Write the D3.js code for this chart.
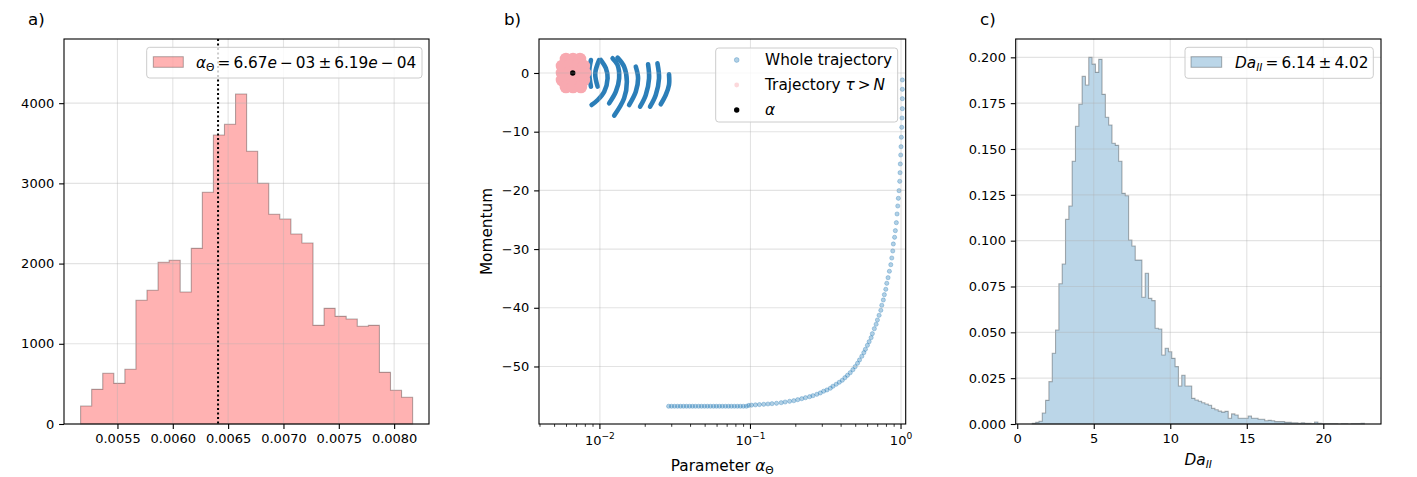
<!DOCTYPE html>
<html><head><meta charset="utf-8">
<script src="https://cdn.jsdelivr.net/npm/d3@7"></script>
<style>
body{margin:0;background:#fff}
svg{display:block}
text{font-family:"DejaVu Sans",sans-serif;fill:#000;white-space:pre}
</style>
</head><body>
<svg id="fig" width="1417" height="477"></svg>
<script>
// ---------------- DATA ----------------
// Panel a: histogram of alpha_Theta (counts), 30 bins
const aBinLo = 0.005167, aBinHi = 0.008167;
const aCounts = [224, 432, 632, 507, 682, 1542, 1667, 2016, 2041, 1646, 2190, 2889, 3603, 3737, 4115,
                 3400, 3001, 2615, 2556, 2369, 2257, 1230, 1442, 1342, 1309, 1218, 1230, 644, 420, 333];
const aMarker = 0.006409;
const aXTicks = [0.0055, 0.0060, 0.0065, 0.0070, 0.0075, 0.0080];
const aYTicks = [0, 1000, 2000, 3000, 4000];

// Panel b: whole trajectory (parameter, momentum)
const trajX = [0.0286,0.0299,0.0313,0.0328,0.0343,0.0359,0.0376,0.0394,0.0412,0.0431,0.0452,0.0473,0.0495,0.0518,
  0.0542,0.0568,0.0594,0.0622,0.0651,0.0682,0.0714,0.0747,0.0782,0.0819,0.0857,0.0897,0.0939,
  0.0974,0.1015,0.1079,0.1147,0.1225,0.1306,0.139,0.149,0.160,0.170,0.182,0.194,0.206,0.219,0.232,0.247,0.260,
  0.276,0.291,0.306,0.322,0.339,0.353,0.371,0.389,0.407,0.424,0.441,0.460,0.479,0.496,0.514,0.530,0.549,0.566,
  0.580,0.598,0.614,0.633,0.645,0.665,0.683,0.697,0.715,0.734,0.745,0.763,0.775,0.792,0.804,0.820,0.837,0.855,
  0.868,0.881,0.889,0.906,0.917,0.931,0.941,0.951,0.960,0.970,0.980,0.985,0.989,0.995,1.000,1.005,1.011,1.015,
  1.020,1.020,1.020,1.020];
const trajM = [-56.78,-56.78,-56.78,-56.78,-56.78,-56.78,-56.78,-56.78,-56.78,-56.78,-56.78,-56.78,-56.78,-56.78,
  -56.78,-56.78,-56.78,-56.78,-56.78,-56.78,-56.78,-56.78,-56.78,-56.78,-56.78,-56.78,-56.78,
  -56.64,-56.59,-56.54,-56.49,-56.44,-56.39,-56.34,-56.27,-56.17,-56.05,-55.93,-55.83,-55.66,-55.49,-55.32,-55.15,-54.98,
  -54.74,-54.51,-54.22,-54.00,-53.71,-53.37,-53.03,-52.69,-52.35,-51.91,-51.50,-51.06,-50.55,-50.03,-49.45,-48.89,-48.26,-47.65,
  -47.07,-46.39,-45.78,-45.09,-44.41,-43.56,-42.81,-42.08,-41.28,-40.43,-39.57,-38.67,-37.77,-36.85,-35.83,-34.87,-33.78,-32.66,
  -31.52,-30.32,-29.13,-27.99,-26.86,-25.50,-24.02,-22.66,-21.35,-20.05,-18.45,-16.99,-15.50,-13.97,-12.56,-10.95,-9.25,-7.67,
  -6.08,-4.38,-2.78,-1.19];
// dense oscillating part of the whole trajectory (parameter, momentum) traced as strokes
const trajLoops = [
  [[0.00872,2.21],[0.00849,0.22],[0.00872,-2.33]],
  [[0.00989,2.21],[0.00931,-0.05],[0.00966,-2.33]],
  [[0.01015,2.21],[0.01096,0.80],[0.01125,-0.90],[0.01068,-3.19],[0.00966,-4.60],[0.00881,-5.45]],
  [[0.01214,2.50],[0.01310,1.36],[0.01342,-0.90],[0.01276,-3.19],[0.01152,-5.16]],
  [[0.01310,2.61],[0.01448,1.07],[0.01510,-1.48],[0.01448,-4.31],[0.01244,-7.27]],
  [[0.01731,1.07],[0.01793,-0.90],[0.01731,-3.19],[0.01563,-5.45]],
  [[0.02089,1.48],[0.02121,-0.90],[0.02017,-3.75],[0.01849,-5.74]],
  [[0.02411,1.65],[0.02470,-0.90],[0.02349,-3.75],[0.02153,-5.74]],
  [[0.02877,-0.22],[0.02877,-2.04],[0.02736,-3.75],[0.02535,-5.33]]
];
// trajectory after tau > N
const tauX = [0.00595,0.00663,0.00737, 0.00560,0.00623,0.00704,0.00783, 0.00560,0.00623,0.00704,0.00796,
              0.00560,0.00623,0.00704,0.00783, 0.00595,0.00663,0.00748];
const tauM = [2.39,2.39,2.39, 1.19,1.19,1.19,1.19, 0,0,0,0, -1.19,-1.19,-1.19,-1.19, -2.39,-2.39,-2.39];
const alphaX = [0.0066], alphaM = [0];
const bXTicks = [0.01, 0.1, 1];
const bXTickExp = ["\u22122", "\u22121", "0"];
const bYTicks = [0, -10, -20, -30, -40, -50];

// Panel c: histogram of Da_II (density), 100 bins
const cBinLo = 0.985, cBinHi = 22.685;
const cDensity = [0.0004,0.0009,0.0015,0.0060,0.0129,0.0231,0.0386,0.0513,0.0765,0.0873,
  0.1116,0.1189,0.1433,0.1624,0.1744,0.1896,0.1849,0.2000,0.1963,0.1918,
  0.1989,0.1798,0.1673,0.1631,0.1531,0.1520,0.1433,0.1258,0.1245,0.1004,
  0.0971,0.0894,0.0894,0.0691,0.0822,0.0685,0.0673,0.0522,0.0518,0.0376,
  0.0413,0.0394,0.0358,0.0313,0.0207,0.0266,0.0207,0.0207,0.0140,0.0131,
  0.0124,0.0116,0.0109,0.0102,0.0085,0.0078,0.0070,0.0065,0.0069,0.0031,
  0.0055,0.0049,0.0031,0.0031,0.0031,0.0044,0.0031,0.0031,0.0026,0.0026,
  0.0018,0.0020,0.0018,0.0013,0.0013,0.0013,0.0009,0.0009,0.0007,0.0007,
  0.0004,0.0007,0.0004,0.0004,0.0002,0.0011,0.0004,0.0002,0.0002,0.0002,
  0.0002,0.0002,0.0000,0.0002,0.0002,0.0000,0.0002,0.0002,0.0002,0.0004];
const cXTicks = [0, 5, 10, 15, 20];
const cYTicks = [0, 0.025, 0.05, 0.075, 0.1, 0.125, 0.15, 0.175, 0.2];

// ---------------- DRAWING ----------------
const svg = d3.select("#fig");
const TICK = 4.9, PAD = 4.9, TFS = 13, LFS = 15.3, GRID = "#b0b0b0";
const TS = "\u2009"; // thin space (math spacing)

function edges(lo, hi, n) { return d3.range(n + 1).map(i => lo + i * (hi - lo) / n); }
function stepPath(x, y, e, v) {
  let p = `M${x(e[0])},${y(0)}`;
  v.forEach((h, i) => { p += `L${x(e[i])},${y(h)}L${x(e[i + 1])},${y(h)}`; });
  return p + `L${x(e[v.length])},${y(0)}Z`;
}
function grid(g, x, y, xt, yt) {
  const [x0, x1] = x.range(), [y0, y1] = y.range();
  g.append("g").selectAll("line").data(xt).join("line")
    .attr("x1", d => x(d)).attr("x2", d => x(d)).attr("y1", y0).attr("y2", y1)
    .attr("stroke", GRID).attr("stroke-opacity", 0.35).attr("stroke-width", 1.1);
  g.append("g").selectAll("line").data(yt).join("line")
    .attr("y1", d => y(d)).attr("y2", d => y(d)).attr("x1", x0).attr("x2", x1)
    .attr("stroke", GRID).attr("stroke-opacity", 0.35).attr("stroke-width", 1.1);
}
function frame(g, x, y) {
  const [x0, x1] = x.range(), [y0, y1] = y.range();
  g.append("rect").attr("x", x0).attr("y", y1).attr("width", x1 - x0).attr("height", y0 - y1)
    .attr("fill", "none").attr("stroke", "#000").attr("stroke-width", 1.1);
}
function styleAxis(a) {
  a.attr("font-size", TFS).attr("font-family", "DejaVu Sans");
  a.select(".domain").remove();
  a.selectAll("line").attr("stroke", "#000").attr("stroke-width", 1.1);
  a.selectAll("text").attr("fill", "#000");
}
function legendBox(g, x, y, w, h) {
  g.append("rect").attr("x", x).attr("y", y).attr("width", w).attr("height", h).attr("rx", 3)
    .attr("fill", "#fff").attr("fill-opacity", 0.8).attr("stroke", "#cccccc").attr("stroke-width", 1);
}
const minus = d => d < 0 ? "\u2212" + Math.abs(d) : String(d);

// ----- Panel a -----
{
  const g = svg.append("g");
  const x = d3.scaleLinear().domain([0.005017, 0.008315]).range([64, 429]);
  const y = d3.scaleLinear().domain([0, 4800]).range([424, 39]);
  g.append("path").attr("d", stepPath(x, y, edges(aBinLo, aBinHi, aCounts.length), aCounts))
    .attr("fill", "red").attr("fill-opacity", 0.3)
    .attr("stroke", "#000").attr("stroke-opacity", 0.3).attr("stroke-width", 1.1);
  grid(g, x, y, aXTicks, aYTicks);
  g.append("line").attr("x1", x(aMarker)).attr("x2", x(aMarker)).attr("y1", 39).attr("y2", 424)
    .attr("stroke", "#000").attr("stroke-width", 2).attr("stroke-dasharray", "2,2.5");
  frame(g, x, y);
  g.append("g").attr("transform", "translate(0,424)")
    .call(d3.axisBottom(x).tickValues(aXTicks).tickFormat(d3.format(".4f")).tickSize(TICK).tickPadding(PAD).tickSizeOuter(0))
    .call(styleAxis);
  g.append("g").attr("transform", "translate(64,0)")
    .call(d3.axisLeft(y).tickValues(aYTicks).tickFormat(d3.format("d")).tickSize(TICK).tickPadding(PAD).tickSizeOuter(0))
    .call(styleAxis);
  g.append("text").attr("x", 28).attr("y", 25).attr("font-size", 16.7).text("a)");
  legendBox(g, 146.7, 47.3, 275.3, 30.7);
  g.append("rect").attr("x", 153.3).attr("y", 56.7).attr("width", 30).attr("height", 10.6)
    .attr("fill", "red").attr("fill-opacity", 0.3).attr("stroke", "#000").attr("stroke-opacity", 0.3);
  const t = g.append("text").attr("x", 196).attr("y", 67.5).attr("font-size", LFS);
  t.append("tspan").attr("font-style", "italic").text("α");
  t.append("tspan").attr("font-size", 10.7).attr("dy", 3).text("Θ");
  t.append("tspan").attr("dy", -3).text(TS + "=" + TS + "6.67");
  t.append("tspan").attr("font-style", "italic").text("e");
  t.append("tspan").text(TS + "−" + TS + "03" + TS + "±" + TS + "6.19");
  t.append("tspan").attr("font-style", "italic").text("e");
  t.append("tspan").text(TS + "−" + TS + "04");
}

// ----- Panel b -----
{
  const g = svg.append("g");
  const x = d3.scaleLog().domain([0.00394, 1.074]).range([539, 905.7]);
  const y = d3.scaleLinear().domain([-59.8, 5.79]).range([424, 39]);
  const blue = "#1f77b4";
  const pts = trajX.map((v, i) => [v, trajM[i]]);
  g.append("g").selectAll("circle").data(pts).join("circle")
    .attr("cx", d => x(d[0])).attr("cy", d => y(d[1])).attr("r", 2.1)
    .attr("fill", blue).attr("fill-opacity", 0.35)
    .attr("stroke", blue).attr("stroke-opacity", 0.35).attr("stroke-width", 0.9);
  const line = d3.line().x(d => x(d[0])).y(d => y(d[1])).curve(d3.curveCatmullRom);
  g.append("g").selectAll("path").data(trajLoops).join("path")
    .attr("d", line).attr("fill", "none").attr("stroke", "#2077b4").attr("stroke-opacity", 0.95)
    .attr("stroke-width", 4.6).attr("stroke-linecap", "round").attr("stroke-linejoin", "round");
  g.append("g").selectAll("circle").data(tauX.map((v, i) => [v, tauM[i]])).join("circle")
    .attr("cx", d => x(d[0])).attr("cy", d => y(d[1])).attr("r", 6.3).attr("fill", "#f8a9b0");
  g.append("g").selectAll("circle").data(alphaX.map((v, i) => [v, alphaM[i]])).join("circle")
    .attr("cx", d => x(d[0])).attr("cy", d => y(d[1])).attr("r", 2.7).attr("fill", "#000");
  grid(g, x, y, bXTicks, bYTicks);
  frame(g, x, y);
  const minor = [];
  [0.001, 0.01, 0.1].forEach(dec => d3.range(2, 10).forEach(m => { const v = m * dec; if (v > 0.00394 && v < 1.074) minor.push(v); }));
  g.append("g").selectAll("line").data(minor).join("line")
    .attr("x1", d => x(d)).attr("x2", d => x(d)).attr("y1", 424).attr("y2", 424 + 2.8)
    .attr("stroke", "#000").attr("stroke-width", 0.8);
  g.append("g").selectAll("line").data(bXTicks).join("line")
    .attr("x1", d => x(d)).attr("x2", d => x(d)).attr("y1", 424).attr("y2", 424 + TICK)
    .attr("stroke", "#000").attr("stroke-width", 1.1);
  const lab = g.append("g").selectAll("text").data(bXTicks).join("text")
    .attr("x", d => x(d)).attr("y", 445).attr("text-anchor", "middle").attr("font-size", TFS);
  lab.append("tspan").text("10");
  lab.append("tspan").attr("font-size", 9.1).attr("dy", -6.5).text((d, i) => bXTickExp[i]);
  g.append("g").attr("transform", "translate(539,0)")
    .call(d3.axisLeft(y).tickValues(bYTicks).tickFormat(minus).tickSize(TICK).tickPadding(PAD).tickSizeOuter(0))
    .call(styleAxis);
  g.append("text").attr("x", 504).attr("y", 25).attr("font-size", 16.7).text("b)");
  const xl = g.append("text").attr("x", 722.3).attr("y", 471).attr("text-anchor", "middle").attr("font-size", LFS);
  xl.append("tspan").text("Parameter ");
  xl.append("tspan").attr("font-style", "italic").text("α");
  xl.append("tspan").attr("font-size", 10.7).attr("dy", 3).text("Θ");
  g.append("text").attr("transform", "translate(492,231.5) rotate(-90)").attr("text-anchor", "middle")
    .attr("font-size", LFS).text("Momentum");
  legendBox(g, 715.7, 48, 182, 74);
  g.append("circle").attr("cx", 736.7).attr("cy", 60).attr("r", 2.4)
    .attr("fill", blue).attr("fill-opacity", 0.35).attr("stroke", blue).attr("stroke-opacity", 0.35).attr("stroke-width", 0.9);
  g.append("circle").attr("cx", 736.7).attr("cy", 85).attr("r", 2.4).attr("fill", "#f8a9b0").attr("fill-opacity", 0.45);
  g.append("circle").attr("cx", 736.7).attr("cy", 110).attr("r", 2.7).attr("fill", "#000");
  g.append("text").attr("x", 765).attr("y", 65).attr("font-size", LFS).text("Whole trajectory");
  const t2 = g.append("text").attr("x", 765).attr("y", 90).attr("font-size", LFS);
  t2.append("tspan").text("Trajectory ");
  t2.append("tspan").attr("font-style", "italic").text("τ");
  t2.append("tspan").text(TS + ">" + TS);
  t2.append("tspan").attr("font-style", "italic").text("N");
  g.append("text").attr("x", 765).attr("y", 115).attr("font-size", LFS).attr("font-style", "italic").text("α");
}

// ----- Panel c -----
{
  const g = svg.append("g");
  const x = d3.scaleLinear().domain([-0.1, 23.77]).range([1015.7, 1381]);
  const y = d3.scaleLinear().domain([0, 0.21]).range([424, 39]);
  g.append("path").attr("d", stepPath(x, y, edges(cBinLo, cBinHi, cDensity.length), cDensity))
    .attr("fill", "#1f77b4").attr("fill-opacity", 0.3)
    .attr("stroke", "#000").attr("stroke-opacity", 0.3).attr("stroke-width", 1.1);
  grid(g, x, y, cXTicks, cYTicks);
  frame(g, x, y);
  g.append("g").attr("transform", "translate(0,424)")
    .call(d3.axisBottom(x).tickValues(cXTicks).tickFormat(d3.format("d")).tickSize(TICK).tickPadding(PAD).tickSizeOuter(0))
    .call(styleAxis);
  g.append("g").attr("transform", "translate(1015.7,0)")
    .call(d3.axisLeft(y).tickValues(cYTicks).tickFormat(d3.format(".3f")).tickSize(TICK).tickPadding(PAD).tickSizeOuter(0))
    .call(styleAxis);
  g.append("text").attr("x", 980).attr("y", 25).attr("font-size", 16.7).text("c)");
  const xl = g.append("text").attr("x", 1198.3).attr("y", 465).attr("text-anchor", "middle").attr("font-size", LFS);
  xl.append("tspan").attr("font-style", "italic").text("Da");
  xl.append("tspan").attr("font-style", "italic").attr("font-size", 10.7).attr("dy", 3).text("II");
  legendBox(g, 1185, 47.3, 188.3, 31);
  g.append("rect").attr("x", 1191).attr("y", 56.7).attr("width", 30.7).attr("height", 10.6)
    .attr("fill", "#1f77b4").attr("fill-opacity", 0.3).attr("stroke", "#000").attr("stroke-opacity", 0.3);
  const t = g.append("text").attr("x", 1235).attr("y", 67.5).attr("font-size", LFS);
  t.append("tspan").attr("font-style", "italic").text("Da");
  t.append("tspan").attr("font-style", "italic").attr("font-size", 10.7).attr("dy", 3).text("II");
  t.append("tspan").attr("dy", -3).text(TS + "=" + TS + "6.14" + TS + "±" + TS + "4.02");
}
</script>
</body></html>
